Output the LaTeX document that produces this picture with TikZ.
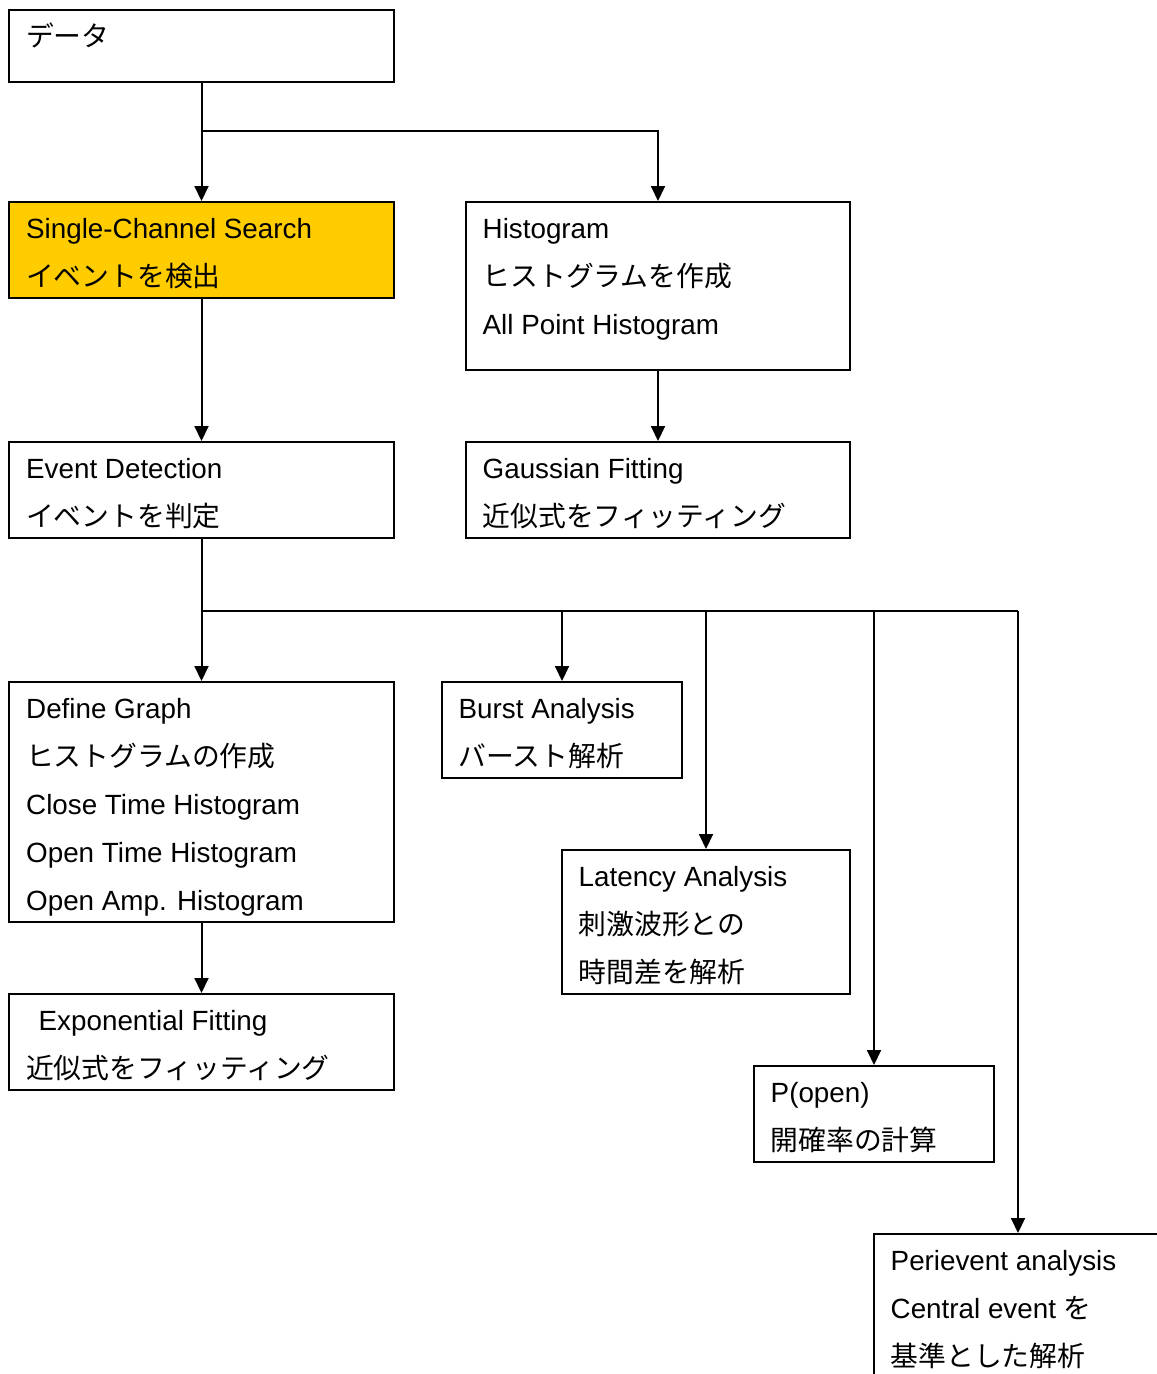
\documentclass[tikz,border=0pt]{standalone}
\usepackage{fontspec}
\setmainfont{Liberation Sans}
\newfontfamily\jp{Noto Sans CJK JP}
\usetikzlibrary{arrows.meta,calc}
\definecolor{hilite}{HTML}{FFCC00}
\tikzset{
  boxnode/.style={draw=black, line width=2pt, rectangle, inner sep=0pt, anchor=north west, fill=white},
  txt/.style={anchor=base west, inner sep=0pt, font=\fontsize{27.8}{48}\selectfont},
  conn/.style={line width=2pt, draw=black},
  arr/.style={conn, -{Triangle[width=14pt,length=15pt]}}
}
\begin{document}
\begin{tikzpicture}[x=1pt,y=-1pt]
\useasboundingbox (0,0) rectangle (1157,1374);
\clip (0,0) rectangle (1157,1374);
\fill[white] (0,0) rectangle (1157,1374);

% boxes
\node[boxnode, minimum width=385pt, minimum height=72pt] (data) at (8,9) {};
\node[boxnode, fill=hilite, minimum width=385pt, minimum height=96pt] (scs) at (8,201) {};
\node[boxnode, minimum width=384pt, minimum height=168pt] (hist) at (465,201) {};
\node[boxnode, minimum width=385pt, minimum height=96pt] (evt) at (8,441) {};
\node[boxnode, minimum width=384pt, minimum height=96pt] (gauss) at (465,441) {};
\node[boxnode, minimum width=385pt, minimum height=240pt] (defg) at (8,681) {};
\node[boxnode, minimum width=240pt, minimum height=96pt] (burst) at (441,681) {};
\node[boxnode, minimum width=288pt, minimum height=144pt] (lat) at (561,849) {};
\node[boxnode, minimum width=385pt, minimum height=96pt] (expf) at (8,993) {};
\node[boxnode, minimum width=240pt, minimum height=96pt] (popen) at (753,1065) {};
\node[boxnode, minimum width=288pt, minimum height=160pt] (peri) at (873,1233) {};

% texts
\node[txt] (t-data1) at ($(data.north west)+(18,37)$) {\jp データ};

\node[txt] (t-scs1) at ($(scs.north west)+(18,37)$) {Single-Channel Search};
\node[txt] (t-scs2) at ($(scs.north west)+(18,85)$) {\jp イベントを検出};

\node[txt] (t-hist1) at ($(hist.north west)+(17.5,37)$) {Histogram};
\node[txt] (t-hist2) at ($(hist.north west)+(17.5,85)$) {\jp ヒストグラムを作成};
\node[txt] (t-hist3) at ($(hist.north west)+(17.5,133)$) {All Point Histogram};

\node[txt] (t-evt1) at ($(evt.north west)+(18,37)$) {Event Detection};
\node[txt] (t-evt2) at ($(evt.north west)+(18,85)$) {\jp イベントを判定};

\node[txt] (t-gauss1) at ($(gauss.north west)+(17.5,37)$) {Gaussian Fitting};
\node[txt] (t-gauss2) at ($(gauss.north west)+(17.5,85)$) {\jp 近似式をフィッティング};

\node[txt] (t-defg1) at ($(defg.north west)+(18,37)$) {Define Graph};
\node[txt] (t-defg2) at ($(defg.north west)+(18,85)$) {\jp ヒストグラムの作成};
\node[txt] (t-defg3) at ($(defg.north west)+(18,133)$) {Close Time Histogram};
\node[txt] (t-defg4) at ($(defg.north west)+(18,181)$) {Open Time Histogram};
\node[txt] (t-defg5) at ($(defg.north west)+(18,229)$) {Open Amp. Histogram};

\node[txt] (t-burst1) at ($(burst.north west)+(17.5,37)$) {Burst Analysis};
\node[txt] (t-burst2) at ($(burst.north west)+(17.5,85)$) {\jp バースト解析};

\node[txt] (t-lat1) at ($(lat.north west)+(17.5,37)$) {Latency Analysis};
\node[txt] (t-lat2) at ($(lat.north west)+(17.5,85)$) {\jp 刺激波形との};
\node[txt] (t-lat3) at ($(lat.north west)+(17.5,133)$) {\jp 時間差を解析};

\node[txt] (t-expf1) at ($(expf.north west)+(30.5,37)$) {Exponential Fitting};
\node[txt] (t-expf2) at ($(expf.north west)+(18,85)$) {\jp 近似式をフィッティング};

\node[txt] (t-popen1) at ($(popen.north west)+(17.5,37)$) {P(open)};
\node[txt] (t-popen2) at ($(popen.north west)+(17.5,85)$) {\jp 開確率の計算};

\node[txt] (t-peri1) at ($(peri.north west)+(17.5,37)$) {Perievent analysis};
\node[txt] (t-peri2) at ($(peri.north west)+(17.5,85)$) {Central event {\jp を}};
\node[txt] (t-peri3) at ($(peri.north west)+(17.5,133)$) {\jp 基準とした解析};

% connectors
\coordinate (j1) at ($(data.south)+(0,48)$);
\draw[arr] (data.south) -- (scs.north);
\draw[arr] (j1) -| (hist.north);
\draw[arr] (scs.south) -- (evt.north);
\draw[arr] (hist.south) -- (gauss.north);

\coordinate (j2) at ($(evt.south)+(0,72)$);
\draw[arr] (evt.south) -- (defg.north);
\draw[conn] (j2) -- (j2 -| peri.north);
\draw[arr] (j2 -| burst.north) -- (burst.north);
\draw[arr] (j2 -| lat.north) -- (lat.north);
\draw[arr] (j2 -| popen.north) -- (popen.north);
\draw[arr] (j2 -| peri.north) -- (peri.north);
\draw[arr] (defg.south) -- (expf.north);
\end{tikzpicture}
\end{document}
